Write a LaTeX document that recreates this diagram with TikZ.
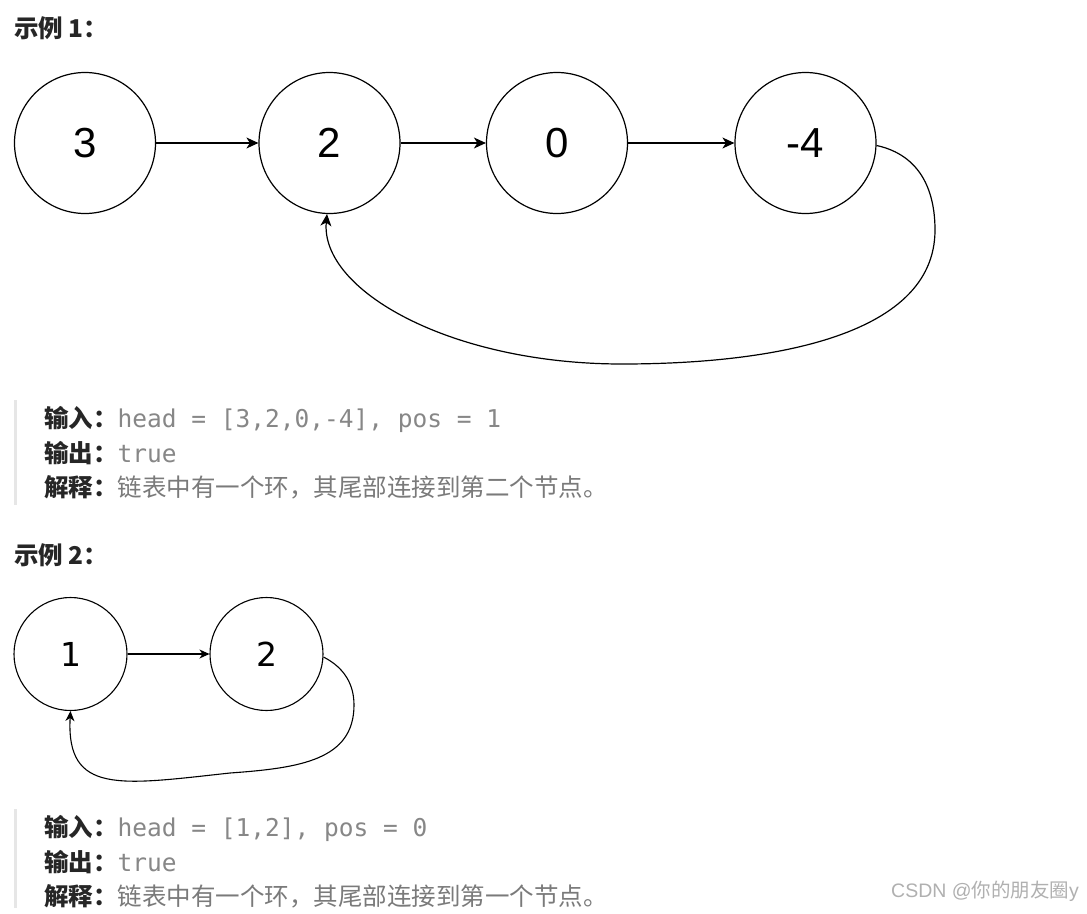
\documentclass[tikz,border=0pt]{standalone}
\usepackage{fontspec}
\usetikzlibrary{arrows.meta}
\newfontfamily\cjk{Noto Sans CJK SC}
\newfontfamily\mono{DejaVu Sans Mono}
\newfontfamily\arialf{Liberation Sans}
\newfontfamily\dejavuf{DejaVu Sans}
\definecolor{lbl}{HTML}{262626}
\definecolor{codegray}{HTML}{878787}
\definecolor{txtgray}{HTML}{7A7A7A}
\definecolor{barcol}{HTML}{E6E6E6}
\definecolor{wmcol}{HTML}{B0B0B0}
\tikzset{
  bignode/.style={circle,draw,line width=1.2pt,minimum size=141pt,inner sep=0pt,
    font=\arialf\fontsize{42}{42}\selectfont},
  smallnode/.style={circle,draw,line width=1.1pt,minimum size=113pt,inner sep=0pt,
    font=\dejavuf\fontsize{33}{33}\selectfont},
  bigarrow/.style={line width=1.2pt,-{Stealth[length=12pt,width=11pt,inset=3.5pt]}},
  smallarrow/.style={line width=1.1pt,-{Stealth[length=10pt,width=9pt,inset=3pt]}},
  heading/.style={anchor=base west,inner sep=0pt,text=lbl,
    font=\cjk\bfseries\fontsize{24.5}{30}\selectfont},
  txtline/.style={anchor=base west,inner sep=0pt,font=\fontsize{24.5}{30}\selectfont},
  quotebar/.style={line width=3pt,draw=barcol},
  wmark/.style={anchor=base west,inner sep=0pt,text=wmcol,font=\fontsize{19.5}{22}\selectfont}
}
\newcommand{\lab}[1]{{\cjk\bfseries\color{lbl}#1}}
\newcommand{\cod}[1]{{\mono\color{codegray}#1}}
\newcommand{\expl}[1]{{\cjk\color{txtgray}#1}}
\begin{document}
\begin{tikzpicture}[x=1pt,y=-1pt]
\useasboundingbox[fill=white] (0,0) rectangle (1087,913);

% ---------- Example 1 ----------
\node[heading] (h1) at (14,37) {示例 1：};
\node[bignode] (a1) at (85,143) {3};
\node[bignode] (a2) at (329.5,143) {2};
\node[bignode] (a3) at (557,143) {0};
\node[bignode] (a4) at (805.5,143) {-4};
\draw[bigarrow] (a1) -- (a2);
\draw[bigarrow] (a2) -- (a3);
\draw[bigarrow] (a3) -- (a4);
\draw[bigarrow] (a4.-2) .. controls (920,155) and (935,190) .. (935,230)
  .. controls (935,340) and (760,364) .. (622,364)
  .. controls (450,364) and (320,290) .. (a2.-92);

\coordinate (b1t) at (15,400);
\coordinate (b1b) at (15,505);
\draw[quotebar] (b1t) -- (b1b);
\node[txtline] (l11) at (44,427) {\lab{输入：}\cod{head = [3,2,0,-4], pos = 1}};
\node[txtline] (l12) at (44,462) {\lab{输出：}\cod{true}};
\node[txtline] (l13) at (44,496) {\lab{解释：}\expl{链表中有一个环，其尾部连接到第二个节点。}};

% ---------- Example 2 ----------
\node[heading] (h2) at (14,564) {示例 2：};
\node[smallnode] (m1) at (70.5,654) {1};
\node[smallnode] (m2) at (266.5,654) {2};
\draw[smallarrow] (m1) -- (m2);
\draw[smallarrow] (m2.-3) .. controls (345,668) and (354,685) .. (354,705)
  .. controls (354,760) and (300,768) .. (230,773)
  .. controls (120,785) and (66,795) .. (m1.south);

\coordinate (b2t) at (15,809);
\coordinate (b2b) at (15,908);
\draw[quotebar] (b2t) -- (b2b);
\node[txtline] (l21) at (44,836) {\lab{输入：}\cod{head = [1,2], pos = 0}};
\node[txtline] (l22) at (44,871) {\lab{输出：}\cod{true}};
\node[txtline] (l23) at (44,905) {\lab{解释：}\expl{链表中有一个环，其尾部连接到第一个节点。}};

% ---------- watermark ----------
\node[wmark] (wm) at (891,897) {{\arialf CSDN @}{\cjk 你的朋友圈}{\arialf y}};
\end{tikzpicture}
\end{document}
